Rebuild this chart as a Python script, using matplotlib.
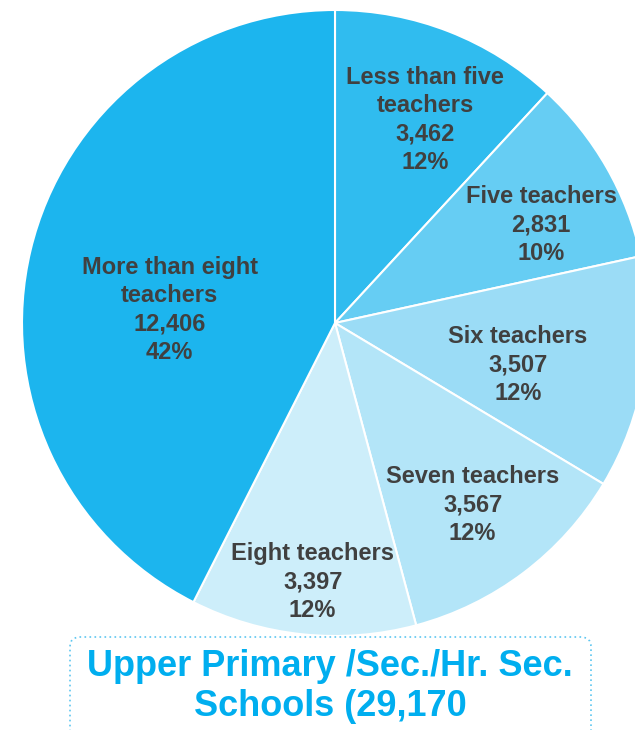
import numpy as np
import matplotlib
matplotlib.use("Agg")
import matplotlib.pyplot as plt
from matplotlib.patches import FancyBboxPatch

# data
categories = ["Less than five\nteachers", "Five teachers", "Six teachers",
              "Seven teachers", "Eight teachers", "More than eight\nteachers"]
schools = [3462, 2831, 3507, 3567, 3397, 12406]
percents = [12, 10, 12, 12, 12, 42]
colors = ["#30BCEF", "#66CDF3", "#9BDCF6", "#B3E5F8", "#CDEEFA", "#1CB5EE"]
title_lines = ["Upper Primary /Sec./Hr. Sec.", "Schools (29,170"]

# label placement (fraction of radius, angle tweak in degrees)
label_r = [0.71, 0.73, 0.60, 0.73, 0.83, 0.53]
label_dt = [-2.6, -4.3, -3.6, 0.0, 1.0, 9.0]

W, H = 635, 730
cx, cy, R = 335, H - 323, 313

fig = plt.figure(figsize=(W / 100, H / 100), dpi=100)
ax = fig.add_axes([0, 0, 1, 1])

wedges, _ = ax.pie(schools, colors=colors, startangle=90, counterclock=False,
                   center=(cx, cy), radius=R, frame=True,
                   wedgeprops=dict(edgecolor="white", linewidth=1.5))
ax.set_xlim(0, W)
ax.set_ylim(0, H)
ax.set_aspect("auto")
ax.axis("off")

for w, cat, val, pct, rf, dt in zip(wedges, categories, schools, percents,
                                    label_r, label_dt):
    ang = np.deg2rad((w.theta1 + w.theta2) / 2 + dt)
    x = cx + rf * R * np.cos(ang)
    y = cy + rf * R * np.sin(ang)
    ax.text(x, y, f"{cat}\n{val:,}\n{pct}%", ha="center", va="center",
            fontsize=17, fontweight="bold", color="#404040",
            family="Liberation Sans", linespacing=1.3)

box = FancyBboxPatch((70, -30), 521, 123, boxstyle="round,pad=0,rounding_size=10",
                     fill=False, edgecolor="#5CC6F0", linestyle=(0, (1, 2)),
                     linewidth=1.2)
ax.add_patch(box)
ax.text(330, H - 667, title_lines[0], ha="center", va="center", fontsize=26,
        fontweight="bold", color="#00AEEF", family="Liberation Sans")
ax.text(330, H - 706, title_lines[1], ha="center", va="center", fontsize=26,
        fontweight="bold", color="#00AEEF", family="Liberation Sans")

fig.savefig("out.png", dpi=100)
